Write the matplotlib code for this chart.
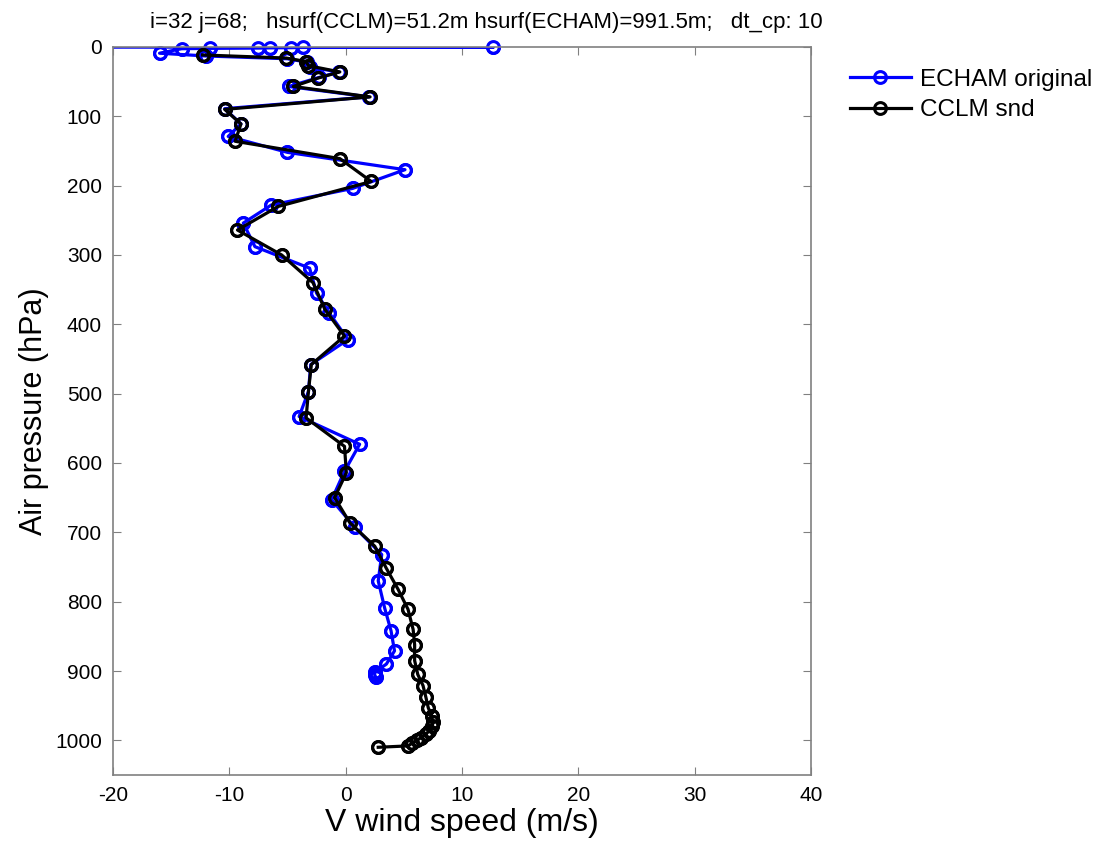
import matplotlib

matplotlib.use("Agg")
import matplotlib.pyplot as plt
import numpy as np

plt.rcParams["font.family"] = ["Liberation Sans", "DejaVu Sans"]
plt.rcParams["axes.unicode_minus"] = False

# ECHAM original profile (v wind m/s, pressure hPa)
echam_v = [
    -25.0, 12.7, -3.7, -4.7, -6.5, -7.5, -11.7, -14.1, -16.0,
    -12.0, -5.0, -3.3, -3.1, -0.6, -2.3, -4.9, 2.0, -10.4, -9.0,
    -10.1, -5.0, 5.1, 0.6, -6.4, -8.8, -7.8, -3.1, -2.5, -1.4,
    0.2, -3.0, -3.2, -4.0, 1.2, -0.1, -1.2, 0.8, 3.1, 2.8,
    3.35, 3.9, 4.2, 3.5, 2.5, 2.5, 2.6,
]
echam_p = [
    0.2, 0.4, 0.7, 1.0, 1.3, 1.6, 2.0, 2.5, 9.0,
    13.0, 17.0, 22.0, 29.0, 36.0, 44.0, 57.0, 72.0, 89.0, 111.0,
    129.0, 152.0, 177.0, 204.0, 228.0, 254.0, 288.0, 319.0, 355.0, 384.0,
    422.0, 458.0, 497.0, 533.0, 573.0, 612.0, 653.0, 693.0, 732.0, 770.0,
    809.0, 842.0, 871.0, 890.0, 902.0, 906.0, 909.0,
]

# CCLM sounding profile
cclm_v = [
    -12.3, -5.1, -3.4, -3.2, -0.5, -2.4, -4.5, 2.1, -10.4, -9.0,
    -9.5, -0.5, 2.2, -5.8, -9.3, -5.5, -2.8, -1.8, -0.1, -2.95,
    -3.2, -3.4, -0.1, 0.06, -0.95, 0.35, 2.5, 3.5, 4.5, 5.36,
    5.8, 5.93, 5.93, 6.2, 6.65, 6.9, 7.1, 7.4, 7.5, 7.45,
    7.2, 6.9, 6.5, 6.1, 5.7, 5.4, 2.8,
]
cclm_p = [
    11.5, 16.0, 21.0, 27.0, 36.0, 45.0, 57.0, 72.0, 90.0, 111.0,
    136.0, 161.0, 194.0, 230.0, 264.0, 300.0, 340.0, 378.0, 417.0, 458.0,
    497.0, 535.0, 576.0, 614.0, 650.0, 686.0, 720.0, 752.0, 782.0, 811.0,
    840.0, 862.0, 885.0, 905.0, 921.0, 938.0, 953.0, 965.0, 974.0, 980.0,
    986.0, 991.0, 996.0, 1000.0, 1004.0, 1008.0, 1010.0,
]

x_ticks = np.arange(-20, 41, 10)
y_ticks = np.arange(0, 1001, 100)

fig = plt.figure(figsize=(10.95, 8.51), dpi=100, facecolor="white")
ax = fig.add_axes([0.1032, 0.0893, 0.6374, 0.8555])

style = dict(marker="o", markersize=8.5, markeredgewidth=2.2,
             markerfacecolor="none", linewidth=2.3)

for v, p, col, lab in ((echam_v, echam_p, "#0000ff", "ECHAM original"),
                       (cclm_v, cclm_p, "black", "CCLM snd")):
    v = np.asarray(v)
    p = np.asarray(p)
    ax.plot(v, p, color=col, label=lab, **style)
    # MATLAB does not clip markers at the axes edge
    inside = (v >= x_ticks[0]) & (v <= x_ticks[-1])
    ax.plot(v[inside], p[inside], linestyle="none", color=col,
            clip_on=False, **{k: s for k, s in style.items() if k != "linewidth"})

ax.set_xlim(-20, 40)
ax.set_ylim(1050, 0)
ax.set_xticks(x_ticks)
ax.set_yticks(y_ticks)
ax.tick_params(direction="in", top=True, right=True, labelsize=15,
               length=6, color="#808080", pad=8)
for spine in ax.spines.values():
    spine.set_color("#808080")
    spine.set_linewidth(1.2)

ax.set_xlabel("V wind speed (m/s)", fontsize=23, labelpad=2)
ax.set_ylabel("Air pressure (hPa)", fontsize=22, labelpad=4)
ax.set_title("i=32 j=68;   hsurf(CCLM)=51.2m hsurf(ECHAM)=991.5m;   dt_cp: 10",
             fontsize=16, pad=14, x=0.535)

ax.legend(loc="upper left", bbox_to_anchor=(1.035, 0.99), frameon=False,
          fontsize=17.5, handlelength=2.5, handletextpad=0.4,
          borderaxespad=0.2, labelspacing=0.35)

fig.savefig("out.png", dpi=100, facecolor="white")
